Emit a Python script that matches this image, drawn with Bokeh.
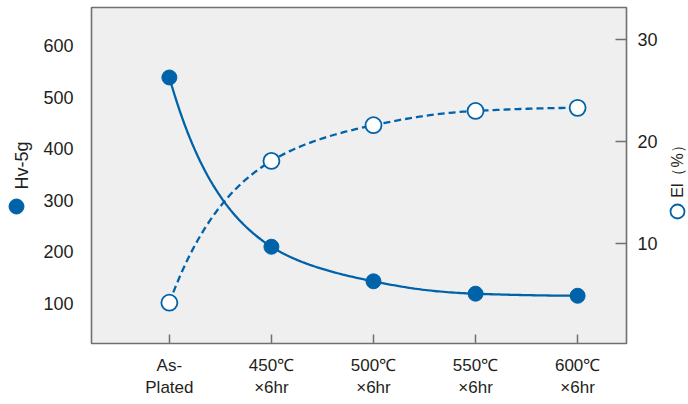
import numpy as np
from bokeh.plotting import figure
from bokeh.layouts import row
from bokeh.models import Range1d, LinearAxis, FixedTicker
from bokeh.core.properties import value
from bokeh.embed import file_html
from bokeh.resources import INLINE

# ---- data ----
categories = ["As-\nPlated", "450℃\n×6hr", "500℃\n×6hr", "550℃\n×6hr", "600℃\n×6hr"]
hv_values = [538, 210, 143, 119, 115]
el_values = [4.2, 18.1, 21.6, 23.0, 23.3]
hv_ticks = [100, 200, 300, 400, 500, 600]
el_ticks = [10, 20, 30]
hv_label = "Hv-5g"
el_label = "El（%）"

BLUE = "#0063a9"
GRAY = "#707070"
TXT = "#231f20"
FONT = value("Liberation Sans")


def pchip_slopes(t):
    d = np.diff(t)
    n = len(t)
    m = np.zeros(n)
    for k in range(1, n - 1):
        if d[k - 1] * d[k] > 0:
            m[k] = 2.0 / (1.0 / d[k - 1] + 1.0 / d[k])
    def end(d0, d1):
        s = (3 * d0 - d1) / 2.0
        if np.sign(s) != np.sign(d0):
            return 0.0
        if np.sign(d0) != np.sign(d1) and abs(s) > abs(3 * d0):
            return 3 * d0
        return s
    m[0] = end(d[0], d[1])
    m[-1] = end(d[-1], d[-2])
    return m


def smooth_curve(ys, asym, n=40):
    ys = np.asarray(ys, dtype=float)
    sgn = np.sign(ys[0] - asym)
    t = np.log(np.abs(ys - asym))
    m = pchip_slopes(t)
    xs_out, ys_out = [], []
    for k in range(len(ys) - 1):
        s = np.linspace(0, 1, n, endpoint=(k == len(ys) - 2))
        h00 = 2 * s**3 - 3 * s**2 + 1
        h10 = s**3 - 2 * s**2 + s
        h01 = -2 * s**3 + 3 * s**2
        h11 = s**3 - s**2
        v = h00 * t[k] + h10 * m[k] + h01 * t[k + 1] + h11 * m[k + 1]
        xs_out.extend(k + s)
        ys_out.extend(asym + sgn * np.exp(v))
    return np.array(xs_out), np.array(ys_out)


xpos = list(range(len(categories)))
hv_x, hv_y = smooth_curve(hv_values, min(hv_values) * 0.95)
el_x, el_y = smooth_curve(el_values, max(el_values) * 1.05)

H = 400
TOP, BOT = 7, 343   # frame edges (pixels from top)

# ---- main chart ----
p = figure(width=622, height=H, output_backend="svg", toolbar_location=None,
           x_range=Range1d(-0.763, 4.479), y_range=Range1d(22.5, 673.6),
           min_border_left=50, min_border_right=36, min_border_top=TOP,
           min_border_bottom=H - BOT)
p.extra_y_ranges = {"el": Range1d(0.2, 33.14)}
p.background_fill_color = "#efefef"
p.border_fill_color = "white"
p.outline_line_color = GRAY
p.outline_line_width = 1.6
p.xgrid.visible = False
p.ygrid.visible = False

xa = p.xaxis[0]
xa.ticker = FixedTicker(ticks=xpos)
xa.major_label_overrides = {i: c for i, c in zip(xpos, categories)}
xa.axis_line_color = None
xa.major_tick_in = 9
xa.major_tick_out = 0
xa.major_tick_line_color = GRAY
xa.major_tick_line_width = 1.5
xa.minor_tick_line_color = None
xa.major_label_standoff = 12
xa.major_label_text_font = "Liberation Sans"
xa.major_label_text_font_size = "17px"
xa.major_label_text_color = TXT

ya = p.yaxis[0]
ya.ticker = FixedTicker(ticks=hv_ticks)
ya.axis_line_color = None
ya.major_tick_in = 0
ya.major_tick_out = 0
ya.minor_tick_line_color = None
ya.major_label_standoff = 18
ya.major_label_text_font = "Liberation Sans"
ya.major_label_text_font_size = "18px"
ya.major_label_text_color = TXT

ra = LinearAxis(y_range_name="el", ticker=FixedTicker(ticks=el_ticks))
ra.axis_line_color = None
ra.major_tick_in = 11
ra.major_tick_out = 0
ra.major_tick_line_color = GRAY
ra.major_tick_line_width = 1.5
ra.minor_tick_line_color = None
ra.major_label_standoff = 11
ra.major_label_text_font = "Liberation Sans"
ra.major_label_text_font_size = "18px"
ra.major_label_text_color = TXT
p.add_layout(ra, "right")

p.line(hv_x, hv_y, line_color=BLUE, line_width=2.3)
p.line(el_x, el_y, y_range_name="el", line_color=BLUE, line_width=2.3, line_dash="7 4")
p.scatter(xpos, hv_values, size=15, fill_color=BLUE, line_color=BLUE)
p.scatter(xpos, el_values, y_range_name="el", size=16, fill_color="white",
          line_color=BLUE, line_width=1.8)

# ---- side legends (their frames get aligned to the main frame: TOP..BOT) ----
def side_fig(w):
    f = figure(width=w, height=H, output_backend="svg", toolbar_location=None,
               x_range=Range1d(0, w), y_range=Range1d(H - BOT, H - TOP),
               x_axis_type=None, y_axis_type=None, min_border=0)
    f.outline_line_color = None
    f.xgrid.visible = False
    f.ygrid.visible = False
    f.background_fill_color = "white"
    f.border_fill_color = "white"
    return f

lf = side_fig(40)
lf.scatter([16], [H - 206], size=15, fill_color=BLUE, line_color=BLUE)
lf.text([21], [H - 165], text=[hv_label], angle=np.pi / 2, text_align="center",
        text_baseline="alphabetic", text_font=FONT, text_font_size="18px", text_color=TXT)

rf = side_fig(26)
rf.scatter([15], [H - 211], size=14, fill_color="white", line_color=BLUE, line_width=1.8)
rf.text([15], [H - 167], text=[el_label], angle=np.pi / 2, text_align="center",
        text_baseline="middle", text_font=FONT, text_font_size="16px", text_color=TXT)

layout = row(lf, p, rf)
open("out.html", "w").write(file_html(layout, INLINE))
